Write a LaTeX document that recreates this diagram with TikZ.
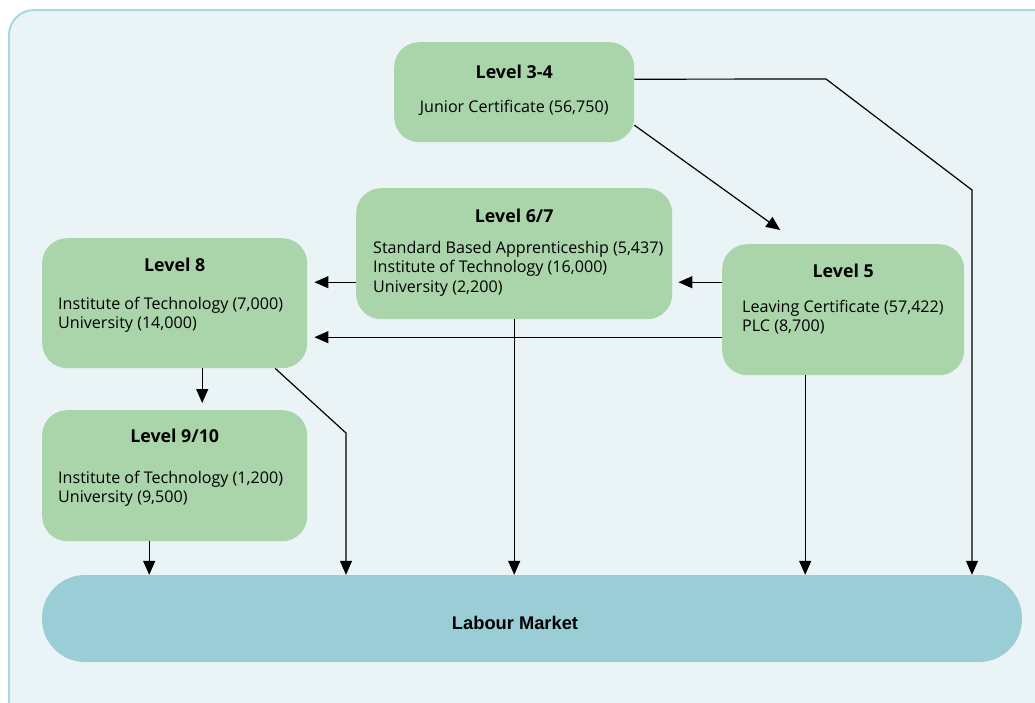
\documentclass[tikz,border=0pt]{standalone}
\usepackage{fontspec}
\setmainfont{Open Sans}
\newfontfamily\lmfont{Liberation Sans}
\usetikzlibrary{arrows.meta}

\definecolor{framebg}{RGB}{234,243,246}
\definecolor{frameline}{RGB}{170,215,225}
\definecolor{lvlgreen}{RGB}{170,213,170}
\definecolor{lmblue}{RGB}{155,205,215}

\newcommand\lvlhead[1]{{\fontsize{17.8}{19.5}\selectfont\bfseries #1}}

\begin{document}
\begin{tikzpicture}[x=1pt,y=-1pt,
   lvlbox/.style={fill=lvlgreen,rounded corners=25pt,anchor=north west,
      inner xsep=0pt,inner ysep=0pt,font=\fontsize{16.1}{19.3}\selectfont},
   flow/.style={draw=black,line width=1.2pt,-{Triangle[length=14pt,width=12pt]}}]
\useasboundingbox (0,0) rectangle (1035,702);
\clip (0,0) rectangle (1035,702);
% frame
\draw[fill=framebg,draw=frameline,line width=2pt,rounded corners=25pt]
   (9,10) rectangle (1080,740);
% levels
\node[lvlbox] (l34) at (394,42) {\parbox[t][100pt][t]{240pt}{\centering
   \vspace*{23pt}\lvlhead{Level 3-4}\\[14.5pt] Junior Certificate (56,750)}};
\node[lvlbox] (l67) at (356,188) {\parbox[t][131pt][t]{316pt}{\vspace*{21pt}
   {\centering\lvlhead{Level 6/7}\par}\vspace{11.5pt}\hspace*{17pt}%
   \parbox[t]{295pt}{Standard Based Apprenticeship (5,437)\\
   Institute of Technology (16,000)\\University (2,200)}}};
\node[lvlbox] (l8) at (42,238) {\parbox[t][130pt][t]{265pt}{\vspace*{20pt}
   {\centering\lvlhead{Level 8}\par}\vspace{18pt}\hspace*{16pt}%
   \parbox[t]{245pt}{Institute of Technology (7,000)\\University (14,000)}}};
\node[lvlbox] (l5) at (722,244) {\parbox[t][131pt][t]{242pt}{\vspace*{20pt}
   {\centering\lvlhead{Level 5}\par}\vspace{15.5pt}\hspace*{20pt}%
   \parbox[t]{220pt}{Leaving Certificate (57,422)\\PLC (8,700)}}};
\node[lvlbox] (l910) at (42,410) {\parbox[t][131pt][t]{265pt}{\vspace*{19pt}
   {\centering\lvlhead{Level 9/10}\par}\vspace{21pt}\hspace*{16pt}%
   \parbox[t]{245pt}{Institute of Technology (1,200)\\University (9,500)}}};
\node[fill=lmblue,rounded corners=43pt,minimum width=980pt,minimum height=87pt,
   text height=21pt,text depth=0pt,
   font=\lmfont\bfseries\fontsize{18.3}{21}\selectfont] (lm) at (532,618.5)
   {\hspace*{-34pt}Labour Market};
% connectors
\coordinate (a34) at ([yshift=13pt]l34.east);
\coordinate (b34) at ([yshift=-33pt]l34.east);
\coordinate (a5) at ([yshift=27.5pt]l5.west);
\coordinate (b5) at ([yshift=-27.5pt]l5.west);
\coordinate (a67) at ([yshift=-28.5pt]l67.west);
\coordinate (a8) at ([xshift=27.5pt]l8.south);
\coordinate (b8) at ([xshift=100.5pt]l8.south);
\coordinate (a910) at ([xshift=-25.5pt]l910.south);
\coordinate (c5) at ([xshift=-38pt]l5.south);
\coordinate (bend1) at (826,79);
\coordinate (bend2) at (972,190);
\coordinate (bend3) at (346,433);
\draw[flow] (a34) -- (bend1) -- (bend2) -- (bend2 |- lm.north);
\draw[flow,shorten >=24pt] (b34) -- ([xshift=-43.5pt]l5.north);
\draw[flow,shorten >=7pt] (a67) -- (a67 -| l8.east);
\draw[flow,shorten >=6pt] (a5) -- (a5 -| l67.east);
\draw[flow,shorten >=7pt] (b5) -- (b5 -| l8.east);
\draw[flow,shorten >=7pt] (a8) -- (a8 |- l910.north);
\draw[flow] (b8) -- (bend3) -- (bend3 |- lm.north);
\draw[flow] (a910) -- (a910 |- lm.north);
\draw[flow] (l67.south) -- (l67.south |- lm.north);
\draw[flow] (c5) -- (c5 |- lm.north);
\end{tikzpicture}
\end{document}
